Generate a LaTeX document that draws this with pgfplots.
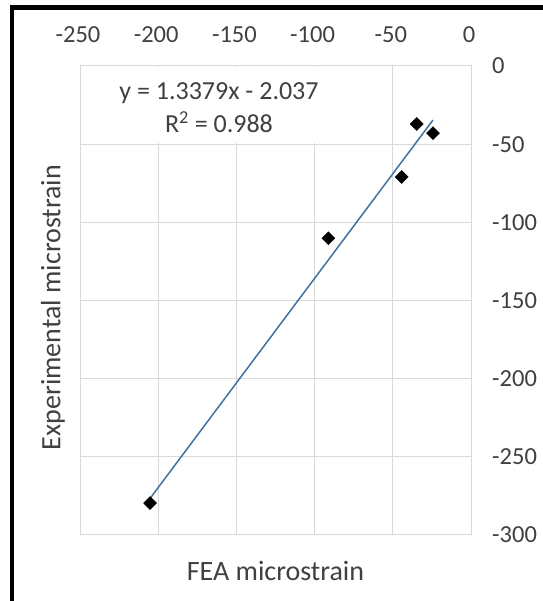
\documentclass[border=0pt]{standalone}
\usepackage{pgfplots}
\pgfplotsset{compat=1.18}
\usepackage{fontspec}
\setmainfont{Carlito}
\definecolor{txt}{HTML}{404040}
\definecolor{grd}{HTML}{D9D9D9}
\definecolor{trend}{HTML}{41719C}
\newcommand{\tickf}{\fontsize{24.5bp}{30bp}\selectfont}
\newcommand{\eqf}{\fontsize{26bp}{31bp}\selectfont}
\newcommand{\titf}{\fontsize{28bp}{33bp}\selectfont}
\begin{document}
\begin{tikzpicture}[x=1bp,y=1bp]
\path[use as bounding box] (0,0) rectangle (543,601);
\begin{axis}[
  at={(80bp,66bp)}, anchor=south west,
  width=391bp, height=469bp, scale only axis,
  xmin=-250, xmax=0, ymin=-300, ymax=0,
  xtick={-250,-200,-150,-100,-50,0},
  xticklabels={-250,-200,-150,-100,-50,0},
  ytick={-300,-250,-200,-150,-100,-50,0},
  yticklabels={-300,-250,-200,-150,-100,-50,0},
  xticklabel pos=top, yticklabel pos=right,
  major tick length=0pt,
  grid=major,
  grid style={grd, line width=1bp},
  axis line style={grd, line width=1bp},
  tick label style={font=\tickf, text=txt, inner sep=0pt},
  x tick label style={anchor=center, yshift=31bp, xshift=-2bp},
  y tick label style={anchor=west, xshift=21bp},
  clip=false,
]
\addplot[only marks, mark=square*, mark size=4.6bp,
  mark options={rotate=45, fill=black, draw=black}] coordinates {
  (-34.7,-37.1) (-24.3,-42.9) (-44.3,-71.0) (-91.2,-110.2) (-205.2,-279.6)};
\addplot[trend, line width=1.5bp] coordinates {(-205.2,-276.6) (-24.3,-34.55)};
\end{axis}
\fill[white] (82,458) rectangle (385,534);
\node[font=\eqf, text=txt, anchor=base, inner sep=0pt] at (219,501) {y = 1.3379x - 2.037};
\node[font=\eqf, text=txt, anchor=base, inner sep=0pt] at (219,468) {R\textsuperscript{2} = 0.988};
\node[font=\titf, text=txt] at (275.5,30) {FEA microstrain};
\node[font=\titf, text=txt, rotate=90] at (53,293.5) {Experimental microstrain};
\draw[line width=4.5bp, line join=miter] (12,0) -- (12,593.5) -- (543,593.5);
\end{tikzpicture}
\end{document}
